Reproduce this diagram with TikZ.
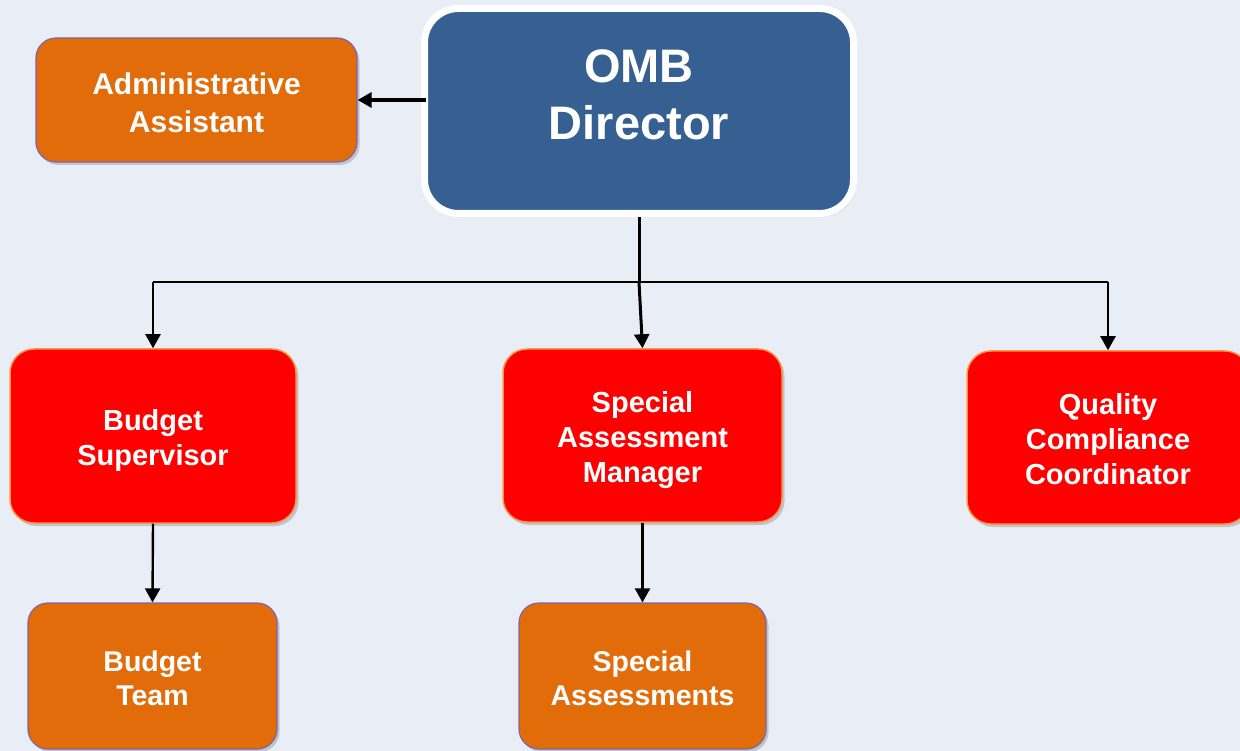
\documentclass[tikz,border=0pt]{standalone}
\usepackage{fontspec}
\setmainfont{Liberation Sans}
\usetikzlibrary{arrows.meta,shadows}
\definecolor{bg}{HTML}{E9EDF6}
\definecolor{ombblue}{HTML}{376092}
\definecolor{orng}{HTML}{E36C0A}
\definecolor{purp}{HTML}{8064A2}
\definecolor{redborder}{HTML}{F79646}
\definecolor{redfill}{HTML}{FF0000}
\tikzset{
  shade/.style={drop shadow={shadow xshift=2.5pt,shadow yshift=-3pt,opacity=0.3,fill=black!60}},
  lab/.style={text=white,align=center,inner sep=0pt},
  orangebox/.style={draw=purp,line width=1.2pt,fill=orng,rounded corners=20pt,inner sep=0pt,shade},
  redbox/.style={draw=redborder,line width=1.5pt,fill=redfill,rounded corners=24pt,inner sep=0pt,shade},
  dirbox/.style={draw=white,line width=7pt,fill=ombblue,rounded corners=34pt,inner sep=0pt,shade},
  smallfont/.style={font=\bfseries\fontsize{28.5}{34}\selectfont},
  redfont/.style={font=\bfseries\fontsize{29}{35}\selectfont},
  wire/.style={line width=2.4pt,black},
  conn/.style={wire,-{Triangle[length=14pt,width=15pt]}}
}
\begin{document}
\begin{tikzpicture}[x=1pt,y=-1pt]
\clip (0,0) rectangle (1240,751);
\fill[bg] (0,0) rectangle (1240,751);
% boxes
\node[orangebox,minimum width=321pt,minimum height=124pt,
  label={[lab,font=\bfseries\fontsize{30}{38}\selectfont,yshift=-3pt]center:Administrative\\Assistant}] (admin) at (196.5,100) {};
\node[dirbox,minimum width=429pt,minimum height=205pt,
  label={[lab,font=\bfseries\fontsize{47}{57}\selectfont,yshift=16pt]center:OMB\\Director}] (dir) at (639,111) {};
\node[redbox,minimum width=286pt,minimum height=174pt,
  label={[lab,redfont,yshift=-5pt]center:Budget\\Supervisor}] (bs) at (153,436) {};
\node[redbox,minimum width=279pt,minimum height=173pt,
  label={[lab,redfont,yshift=-5pt]center:Special\\Assessment\\Manager}] (sam) at (642.5,435.5) {};
\node[redbox,minimum width=282pt,minimum height=173pt,
  label={[lab,redfont,yshift=-1.5pt]center:Quality\\Compliance\\Coordinator}] (qcc) at (1108,437.5) {};
\node[orangebox,minimum width=249pt,minimum height=146pt,
  label={[lab,smallfont,yshift=-2pt]center:Budget\\Team}] (bt) at (152.5,676) {};
\node[orangebox,minimum width=247pt,minimum height=146pt,
  label={[lab,smallfont,yshift=-2pt]center:Special\\Assessments}] (sa) at (642.5,676) {};
% connectors
\coordinate (j) at (639,282);
\coordinate (a0) at (425.5,100);
\draw[conn,line width=3.2pt] (a0) -- (admin.east);
\draw[wire,line width=3pt] (dir.south) -- (j);
\draw[wire,line width=2.2pt] (bs.north |- j) -- (qcc.north |- j);
\draw[conn,line width=3pt] (j) -- (sam.north);
\draw[conn] (bs.north |- j) -- (bs.north);
\draw[conn] (qcc.north |- j) -- (qcc.north);
\draw[conn] (bs.south) -- (bt.north);
\draw[conn] (sam.south) -- (sa.north);
\end{tikzpicture}
\end{document}
